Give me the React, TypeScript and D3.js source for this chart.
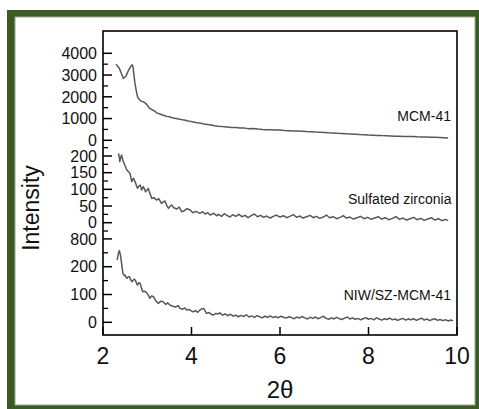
import React from "react";
import * as d3 from "d3";

const mcmX = [2.29,2.33,2.37,2.40,2.43,2.46,2.49,2.52,2.55,2.58,2.62,2.66,2.68,2.70,2.72,2.75,2.78,2.81,2.84,2.88,2.92,2.95,2.99,3.03,3.06,3.10,3.14,3.18,3.21,3.25,3.30,3.35,3.40,3.44,3.50,3.56,3.62,3.68,3.74,3.80,3.86,3.92,3.98,4.04,4.12,4.20,4.28,4.36,4.44,4.52,4.60,4.70,4.80,4.90,5.00,5.10,5.20,5.30,5.40,5.50,5.60,5.70,5.80,5.90,6.00,6.10,6.20,6.30,6.40,6.50,6.60,6.70,6.80,6.90,7.00,7.10,7.20,7.30,7.40,7.50,7.60,7.70,7.80,7.90,8.00,8.10,8.20,8.30,8.40,8.50,8.60,8.70,8.80,8.90,9.00,9.10,9.20,9.30,9.40,9.50,9.60,9.70,9.80];
const mcmY = [3500,3420,3300,3150,3000,2840,2900,2950,3100,3230,3380,3470,3350,3000,2650,2300,2000,1900,1840,1790,1760,1720,1640,1530,1460,1420,1370,1330,1260,1240,1200,1160,1130,1100,1080,1040,1010,990,970,940,920,890,870,845,810,790,745,730,700,670,650,630,615,590,590,565,560,530,540,515,500,490,480,470,475,450,440,430,425,420,400,395,380,370,360,345,340,320,310,300,295,280,265,260,245,235,225,215,210,200,190,185,180,170,170,160,155,150,140,140,130,120,110];

const szX = [2.35,2.37,2.38,2.40,2.42,2.44,2.46,2.50,2.54,2.58,2.61,2.63,2.65,2.67,2.69,2.71,2.73,2.76,2.78,2.81,2.84,2.86,2.87,2.89,2.91,2.94,2.96,2.99,3.02,3.06,3.10,3.15,3.21,3.26,3.32,3.36,3.40,3.44,3.48,3.52,3.55,3.60,3.67,3.72,3.78,3.84,3.90,3.97,4.03,4.10,4.19,4.25,4.31,4.37,4.42,4.50,4.57,4.61,4.68,4.74,4.80,4.87,4.93,5.00,5.07,5.14,5.21,5.28,5.35,5.42,5.49,5.56,5.63,5.70,5.78,5.85,5.92,6.00,6.08,6.15,6.22,6.30,6.38,6.45,6.52,6.60,6.68,6.75,6.82,6.90,6.98,7.05,7.12,7.20,7.28,7.36,7.43,7.50,7.58,7.66,7.74,7.82,7.90,7.98,8.06,8.14,8.22,8.30,8.38,8.46,8.54,8.62,8.70,8.78,8.86,8.94,9.02,9.10,9.18,9.26,9.34,9.42,9.50,9.58,9.66,9.74,9.80];
const szY = [208,195,183,195,203,192,183,170,158,152,148,135,123,130,133,127,121,110,103,110,113,105,98,103,108,100,93,97,103,88,73,75,68,72,58,62,65,52,43,50,53,45,41,47,33,36,42,38,30,34,28,33,26,30,23,28,21,25,19,27,22,17,24,19,25,18,22,15,21,26,18,22,16,20,14,19,23,17,21,15,19,24,16,20,14,18,22,15,19,13,17,23,15,18,12,16,21,14,17,11,15,19,12,16,10,14,18,11,15,9,13,18,10,14,8,12,16,9,13,7,11,15,8,12,6,10,6];

const niwX = [2.32,2.35,2.37,2.39,2.40,2.43,2.45,2.48,2.50,2.52,2.54,2.57,2.60,2.62,2.65,2.68,2.70,2.73,2.76,2.78,2.81,2.84,2.87,2.90,2.94,2.99,3.03,3.06,3.10,3.14,3.19,3.25,3.30,3.36,3.42,3.46,3.51,3.58,3.64,3.70,3.74,3.80,3.85,3.89,3.95,4.00,4.04,4.09,4.14,4.19,4.23,4.27,4.31,4.34,4.40,4.45,4.49,4.55,4.60,4.64,4.70,4.76,4.82,4.88,4.94,5.00,5.06,5.12,5.18,5.24,5.30,5.36,5.42,5.48,5.54,5.60,5.66,5.72,5.78,5.84,5.90,5.96,6.02,6.08,6.14,6.20,6.26,6.32,6.38,6.44,6.50,6.56,6.62,6.68,6.74,6.80,6.86,6.92,6.98,7.04,7.10,7.16,7.22,7.28,7.34,7.40,7.46,7.52,7.58,7.64,7.70,7.76,7.82,7.88,7.94,8.00,8.06,8.12,8.18,8.24,8.30,8.36,8.42,8.48,8.54,8.60,8.66,8.72,8.78,8.84,8.90,8.96,9.02,9.08,9.14,9.20,9.26,9.32,9.38,9.44,9.50,9.56,9.62,9.68,9.74,9.80,9.86,9.91];
const niwY = [224,250,258,245,236,200,176,168,170,162,158,164,164,155,146,150,155,152,140,134,143,140,122,110,112,106,96,86,95,92,78,68,76,74,64,70,62,58,55,60,50,47,52,44,46,40,38,42,36,44,48,50,40,32,35,28,26,32,30,34,26,30,24,29,22,26,20,25,21,27,19,23,18,24,20,16,22,18,23,17,21,16,22,18,15,20,17,13,19,15,21,16,12,18,14,19,13,17,22,14,11,16,12,18,13,10,15,19,12,16,11,14,9,13,17,11,14,9,16,12,8,13,10,15,9,12,7,11,14,8,12,9,13,7,11,15,8,12,6,10,13,7,10,6,9,5,8,5];

const xTicks = [2, 4, 6, 8, 10];
const mcmTicks = [0, 1000, 2000, 3000, 4000];
const mcmMinor = [500, 1500, 2500, 3500];
const szTicks = [0, 50, 100, 150, 200];
const szMinor = [-25, 25, 75, 125, 175, 225];
const niwTicks = [0, 100, 200, 300];
const niwTickLabels = ["0", "100", "200", "800"];
const niwMinor = [50, 150, 250];
const seriesNames = ["MCM-41", "Sulfated zirconia", "NIW/SZ-MCM-41"];

const FONT = "'Liberation Sans', Arial, sans-serif";

export default function App() {
  const left = 103, right = 457, top = 31, bottom = 335;
  const x = d3.scaleLinear().domain([2, 10]).range([left, right]);
  const yM = d3.scaleLinear().domain([0, 4000]).range([140.3, 53.3]);
  const yS = d3.scaleLinear().domain([0, 200]).range([222.7, 156]);
  const yN = d3.scaleLinear().domain([0, 300]).range([322.3, 238.9]);

  const mk = (xs: number[], ys: number[], y: d3.ScaleLinear<number, number>) =>
    d3.line<number>().x((_, i) => x(xs[i])).y((_, i) => y(ys[i]))(xs) || "";

  const panels = [
    { y: yM, ticks: mcmTicks, labels: mcmTicks.map(String), minor: mcmMinor },
    { y: yS, ticks: szTicks, labels: szTicks.map(String), minor: szMinor },
    { y: yN, ticks: niwTicks, labels: niwTickLabels, minor: niwMinor },
  ];
  const lineColor = "#585858";

  return (
    <svg width={479} height={409} style={{ position: "absolute", left: 0, top: 0 }} fontFamily={FONT}>
      <rect x={0} y={0} width={479} height={409} fill="#fff" />
      <rect x={7} y={10} width={472} height={399} fill="#3c5a24" />
      <rect x={15} y={17} width={460} height={388} fill="#fff" stroke="#9aa88c" strokeWidth={1} />

      {panels.map((p, pi) => (
        <g key={pi}>
          {p.ticks.map((t, i) => (
            <g key={t}>
              <line x1={left} x2={left + 9} y1={p.y(t)} y2={p.y(t)} stroke="#000" strokeWidth={1.5} />
              <text x={97} y={p.y(t)} dy="0.36em" textAnchor="end" fontSize={16} fill="#111">{p.labels[i]}</text>
            </g>
          ))}
          {p.minor.map((t) => (
            <line key={"m" + t} x1={left} x2={left + 5} y1={p.y(t)} y2={p.y(t)} stroke="#000" strokeWidth={1.3} />
          ))}
        </g>
      ))}

      {xTicks.map((t) => (
        <g key={t}>
          <line x1={x(t)} x2={x(t)} y1={bottom} y2={bottom - 8} stroke="#000" strokeWidth={1.5} />
          <text x={x(t)} y={364} textAnchor="middle" fontSize={23} fill="#111">{t}</text>
        </g>
      ))}

      <path d={mk(mcmX, mcmY, yM)} fill="none" stroke={lineColor} strokeWidth={1.5} strokeLinejoin="round" />
      <path d={mk(szX, szY, yS)} fill="none" stroke={lineColor} strokeWidth={1.5} strokeLinejoin="round" />
      <path d={mk(niwX, niwY, yN)} fill="none" stroke={lineColor} strokeWidth={1.5} strokeLinejoin="round" />

      <rect x={left} y={top} width={right - left} height={bottom - top} fill="none" stroke="#000" strokeWidth={1.6} />

      <text x={451} y={121} textAnchor="end" fontSize={14} fill="#111">{seriesNames[0]}</text>
      <text x={451.5} y={204} textAnchor="end" fontSize={14} fill="#111">{seriesNames[1]}</text>
      <text x={451} y={300} textAnchor="end" fontSize={14} fill="#111">{seriesNames[2]}</text>

      <text x={280} y={398} textAnchor="middle" fontSize={24} fill="#111">2θ</text>
      <text transform="translate(39,208) rotate(-90)" textAnchor="middle" fontSize={23} fill="#111">Intensity</text>
    </svg>
  );
}
